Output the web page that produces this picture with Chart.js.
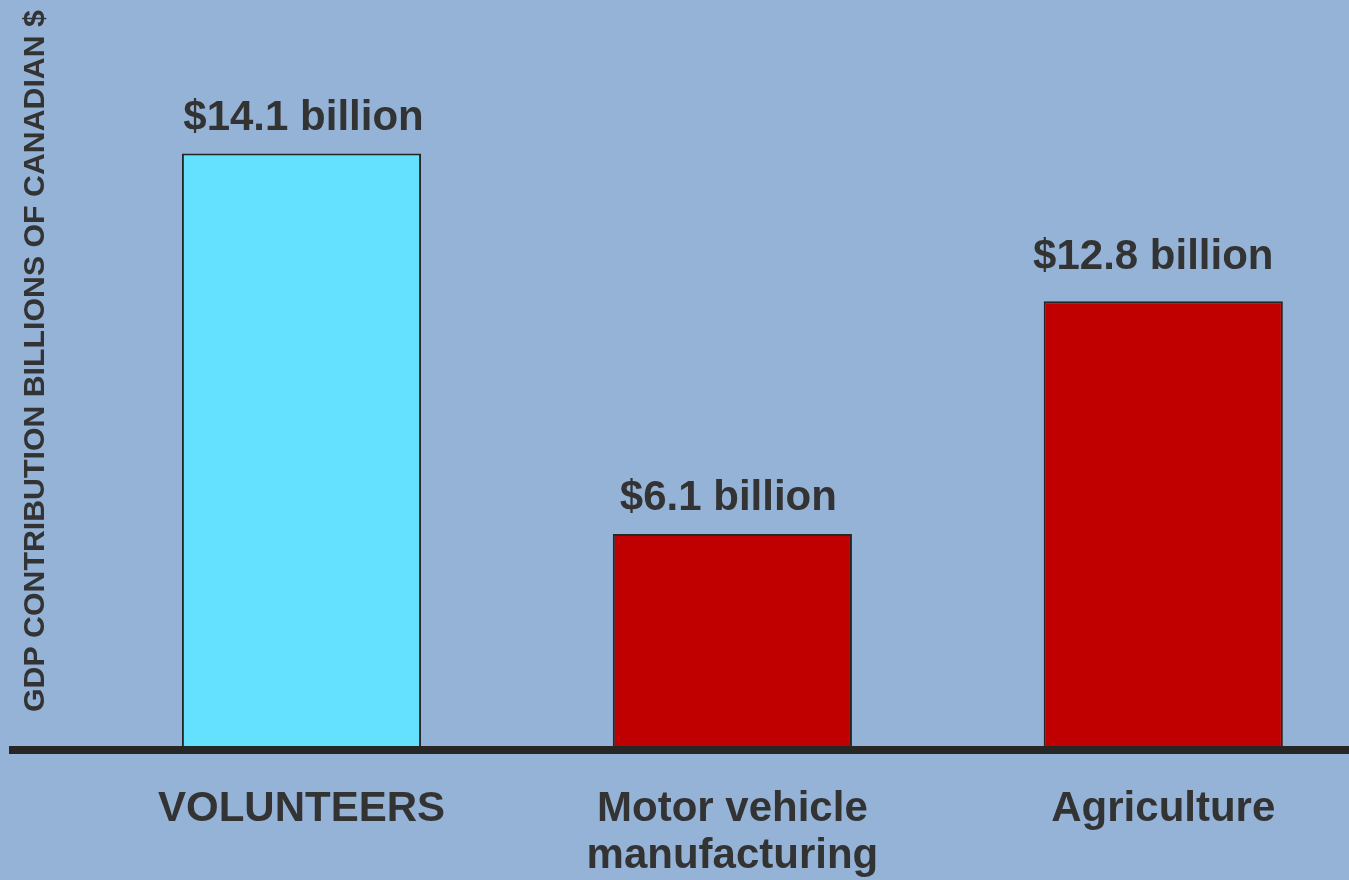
<!DOCTYPE html>
<html>
<head>
<meta charset="utf-8">
<title>GDP contribution</title>
<script src="https://cdn.jsdelivr.net/npm/chart.js@4.4.1/dist/chart.umd.min.js"></script>
<style>
  html, body { margin: 0; padding: 0; background: #95B3D7; }
  #wrap { width: 1349px; height: 880px; position: relative; }
</style>
</head>
<body>
<div id="wrap"><canvas id="chart"></canvas></div>
<script>
// data
const categories = ['VOLUNTEERS', ['Motor vehicle', 'manufacturing'], 'Agriculture'];
const barHeights = [17.05, 6.1, 12.8];
const valueLabels = ['$14.1 billion', '$6.1 billion', '$12.8 billion'];
const barColors = ['#63E1FF', '#C00000', '#C00000'];
const yTitle = 'GDP CONTRIBUTION BILLIONS OF CANADIAN $';

const ink = '#333333';
const font = 'Arial, "Liberation Sans", sans-serif';

// value captions above each bar
const barCaptions = {
  id: 'barCaptions',
  afterDatasetsDraw(chart) {
    const ctx = chart.ctx;
    const lift = [24, 24, 32], shift = [2, -4, -10];
    ctx.save();
    ctx.font = `bold 42px ${font}`;
    ctx.fillStyle = ink;
    ctx.textAlign = 'center';
    ctx.textBaseline = 'alphabetic';
    chart.getDatasetMeta(0).data.forEach((bar, i) => {
      ctx.fillText(valueLabels[i], bar.x + shift[i], bar.y - lift[i]);
    });
    ctx.restore();
  }
};

// rotated axis caption, sits inside the plot on the left
const sideTitle = {
  id: 'sideTitle',
  afterDraw(chart) {
    const ctx = chart.ctx;
    ctx.save();
    ctx.translate(44, 712);
    ctx.rotate(-Math.PI / 2);
    ctx.font = `bold 30.3px ${font}`;
    ctx.fillStyle = ink;
    ctx.textAlign = 'left';
    ctx.textBaseline = 'alphabetic';
    ctx.fillText(yTitle, 0, 0);
    ctx.restore();
  }
};

new Chart(document.getElementById('chart'), {
  type: 'bar',
  data: {
    datasets: [{
      data: barHeights.map((v, i) => ({ x: i, y: v })),
      backgroundColor: barColors,
      borderColor: '#262626',
      borderWidth: 2,
      barPercentage: 0.555,
      categoryPercentage: 1
    }]
  },
  options: {
    responsive: true,
    maintainAspectRatio: false,
    animation: false,
    layout: { padding: { top: 51, left: 13, right: 0, bottom: 0 } },
    plugins: { legend: { display: false }, tooltip: { enabled: false } },
    scales: {
      x: {
        type: 'linear',
        min: -0.6695,
        max: 2.431,
        offset: false,
        grid: { display: false, drawTicks: false },
        border: { display: true, width: 8, color: '#262626' },
        afterBuildTicks: s => { s.ticks = categories.map((c, i) => ({ value: i })); },
        afterFit: s => { s.height = 130; },
        ticks: {
          padding: 36,
          color: ink,
          maxRotation: 0,
          autoSkip: false,
          font: { family: font, size: 42, weight: 'bold', lineHeight: 1.12 },
          callback: v => categories[v] ?? ''
        }
      },
      // small negative floor so the bars stand on top of the thick base line
      y: { display: false, min: -0.115, max: 20 }
    }
  },
  plugins: [barCaptions, sideTitle]
});
</script>
</body>
</html>
